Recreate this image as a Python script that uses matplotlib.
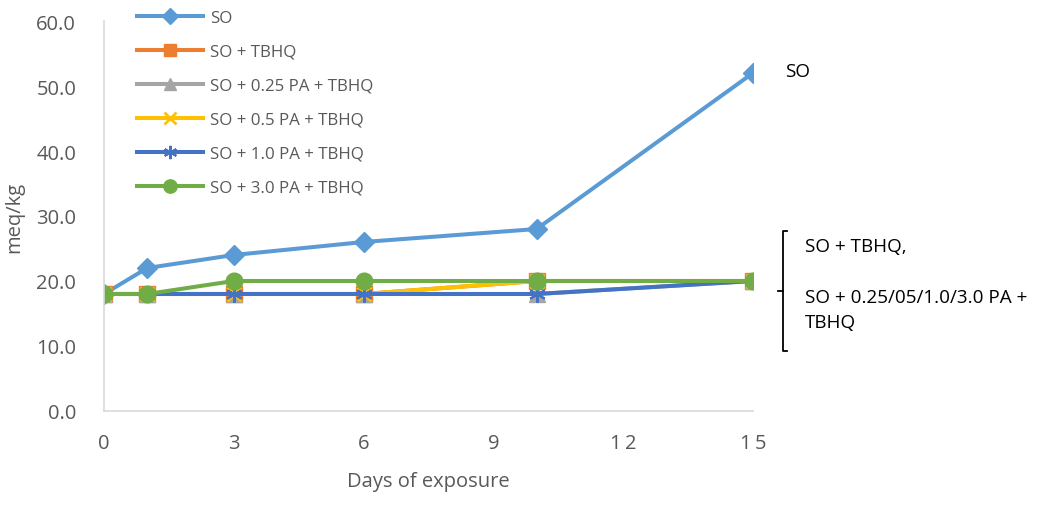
import matplotlib
matplotlib.use("Agg")
import matplotlib.pyplot as plt
from matplotlib.lines import Line2D

days = [0, 1, 3, 6, 10, 15]
so = [18, 22, 24, 26, 28, 52]
so_tbhq = [18, 18, 18, 18, 20, 20]
so_025 = [18, 18, 18, 18, 18, 20]
so_05 = [18, 18, 18, 18, 20, 20]
so_10 = [18, 18, 18, 18, 18, 20]
so_30 = [18, 18, 20, 20, 20, 20]

series_labels = ["SO", "SO + TBHQ", "SO + 0.25 PA + TBHQ", "SO + 0.5 PA + TBHQ",
                 "SO + 1.0 PA + TBHQ", "SO + 3.0 PA + TBHQ"]
x_ticks = [0, 3, 6, 9, 12, 15]
x_tick_labels = ["0", "3", "6", "9", "1\u20092", "1\u20095"]
y_ticks = [0, 10, 20, 30, 40, 50, 60]

plt.rcParams["font.family"] = ["Open Sans", "DejaVu Sans"]

fig = plt.figure(figsize=(10.41, 5.06), dpi=100)
ax = fig.add_axes([0.0999, 0.1858, 0.6234, 0.7707])

styles = [
    dict(color="#5B9BD5", marker="D", ms=10),
    dict(color="#ED7D31", marker="s", ms=11),
    dict(color="#A5A5A5", marker="^", ms=11),
    dict(color="#FFC000", marker="x", ms=10, mew=2),
    dict(color="#4472C4", marker=(6, 2, 0), ms=12, mew=1.5),
    dict(color="#70AD47", marker="o", ms=12),
]
data = [so, so_tbhq, so_025, so_05, so_10, so_30]
for vals, st, lab in zip(data, styles, series_labels):
    ax.plot(days, vals, lw=2.9, label=lab, solid_capstyle="round", **st)

ax.set_xlim(0, 15)
ax.set_ylim(0, 60)
ax.set_xticks(x_ticks)
ax.set_xticklabels(x_tick_labels)
ax.set_yticks(y_ticks)
ax.set_yticklabels([f"{v:.1f}" for v in y_ticks])
ax.tick_params(length=0, labelsize=14.5, colors="#595959")
ax.tick_params(axis="y", pad=20)
ax.tick_params(axis="x", pad=16)
for s in ["top", "right"]:
    ax.spines[s].set_visible(False)
for s in ["left", "bottom"]:
    ax.spines[s].set_color("#D9D9D9")
    ax.spines[s].set_linewidth(1.2)

ax.set_xlabel("Days of exposure", fontsize=14.5, color="#595959", labelpad=13)
ax.set_ylabel("meq/kg", fontsize=14.5, color="#595959")
ax.yaxis.set_label_coords(-0.123, 0.5)

handles = []
for st, lab in zip(styles, series_labels):
    handles.append(Line2D([], [], lw=2.9, label=lab, **st))
fig.legend(handles=handles, loc="upper left", bbox_to_anchor=(0.117, 1.009),
           frameon=False, fontsize=12.2, handlelength=3.9, handletextpad=0.4,
           labelspacing=1.06, labelcolor="#595959", markerscale=0.8)

# right-hand annotations
fig.text(785 / 1041, 1 - 72 / 506, "SO", fontsize=13.6, va="center", ha="left")
bx = 783 / 1041
y_top = 1 - 232 / 506
y_bot = 1 - 352 / 506
y_mid = 1 - 292 / 506
fig.add_artist(Line2D([bx + 4 / 1041, bx, bx, bx + 4 / 1041], [y_top, y_top, y_bot, y_bot],
                      color="black", lw=1.3, transform=fig.transFigure))
fig.add_artist(Line2D([bx - 5 / 1041, bx], [y_mid, y_mid], color="black", lw=1.3,
                      transform=fig.transFigure))
fig.text(805 / 1041, 1 - 247 / 506, "SO + TBHQ,", fontsize=13.6, va="center", ha="left")
fig.text(805 / 1041, 1 - 298 / 506, "SO + 0.25/05/1.0/3.0 PA +", fontsize=13.6,
         va="center", ha="left")
fig.text(805 / 1041, 1 - 323 / 506, "TBHQ", fontsize=13.6, va="center", ha="left")

fig.savefig("out.png", dpi=100)
